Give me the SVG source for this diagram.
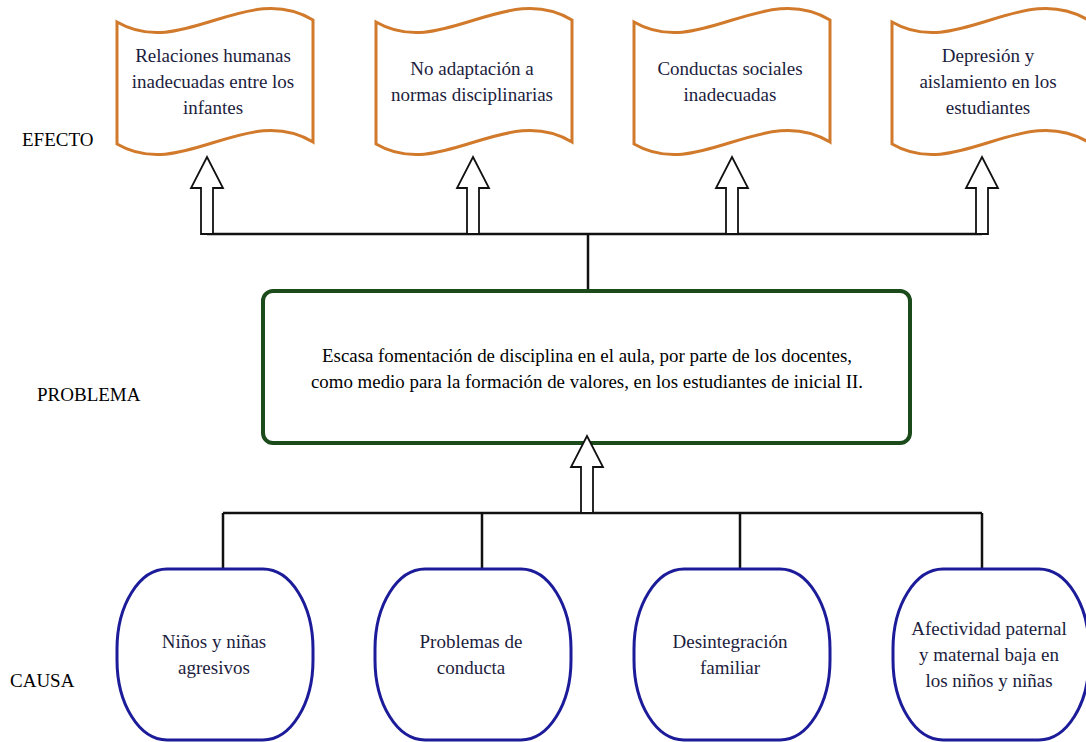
<svg xmlns="http://www.w3.org/2000/svg" width="1086" height="742" viewBox="0 0 1086 742">
<style>
text{font-family:"Liberation Serif","Times New Roman",serif;font-size:19px;text-anchor:middle}
.lbl{fill:#000;text-anchor:start}
.t{fill:#1c1d3e}
.p{fill:#000;font-size:19px}
.wave{fill:#fff;stroke:#d27a2c;stroke-width:3}
.cause{fill:#fff;stroke:#1c1c9a;stroke-width:3}
.prob{fill:#fff;stroke:#1b4a1b;stroke-width:4}
.arr{fill:#fff;stroke:#111;stroke-width:1.8;stroke-linejoin:miter}
.ln{fill:none;stroke:#111;stroke-width:2.5}
</style>
<defs>
<path id="wv" d="M0,22 C65,60 130,-20 196,20 L196,142 C130,102 65,182 0,144 Z"/>
<path id="cs" d="M50,0 L146,0 A50,80 0 0 1 196,80 L196,91 A50,80 0 0 1 146,171 L50,171 A50,80 0 0 1 0,91 L0,80 A50,80 0 0 1 50,0 Z"/>
</defs>

<g id="labels">
<text class="lbl" x="22" y="146">EFECTO</text>
<text class="lbl" x="37" y="401">PROBLEMA</text>
<text class="lbl" x="10" y="687">CAUSA</text>
</g>

<g id="connectors">
<path class="ln" d="M207,234 L982,234 M588,234 L588,291"/>
<path class="ln" d="M223,513 L982,513 M223,513 L223,569 M482,513 L482,569 M740,513 L740,569 M982,513 L982,569"/>
<path class="arr" d="M207,157 L223,188 L213,188 L213,234 L201,234 L201,188 L191,188 Z"/>
<path class="arr" d="M473,157 L489,188 L479,188 L479,234 L467,234 L467,188 L457,188 Z"/>
<path class="arr" d="M732,157 L748,188 L738,188 L738,234 L726,234 L726,188 L716,188 Z"/>
<path class="arr" d="M982,157 L998,188 L988,188 L988,234 L976,234 L976,188 L966,188 Z"/>
</g>

<g id="effect1">
<use href="#wv" class="wave" x="117" y="0"/>
<text class="t" x="213" y="62">Relaciones humanas</text>
<text class="t" x="213" y="88">inadecuadas entre los</text>
<text class="t" x="213" y="114">infantes</text>
</g>
<g id="effect2">
<use href="#wv" class="wave" x="376" y="0"/>
<text class="t" x="472" y="75">No adaptación a</text>
<text class="t" x="472" y="101">normas disciplinarias</text>
</g>
<g id="effect3">
<use href="#wv" class="wave" x="634" y="0"/>
<text class="t" x="730" y="75">Conductas sociales</text>
<text class="t" x="730" y="101">inadecuadas</text>
</g>
<g id="effect4">
<use href="#wv" class="wave" x="892" y="0"/>
<text class="t" x="988" y="62">Depresión y</text>
<text class="t" x="988" y="88">aislamiento en los</text>
<text class="t" x="988" y="114">estudiantes</text>
</g>

<g id="problem">
<rect class="prob" x="263" y="291" width="647" height="152" rx="10"/>
<text class="p" x="587" y="362" textLength="530" lengthAdjust="spacingAndGlyphs">Escasa fomentación de disciplina en el aula, por parte de los docentes,</text>
<text class="p" x="587" y="388" textLength="552" lengthAdjust="spacingAndGlyphs">como medio para la formación de valores, en los estudiantes de inicial II.</text>
</g>
<path class="arr" d="M587,436 L603,467 L593,467 L593,513 L581,513 L581,467 L571,467 Z"/>

<g id="cause1">
<use href="#cs" class="cause" x="117" y="569"/>
<text class="t" x="214" y="648">Niños y niñas</text>
<text class="t" x="214" y="674">agresivos</text>
</g>
<g id="cause2">
<use href="#cs" class="cause" x="375" y="569"/>
<text class="t" x="471" y="648">Problemas de</text>
<text class="t" x="471" y="674">conducta</text>
</g>
<g id="cause3">
<use href="#cs" class="cause" x="634" y="569"/>
<text class="t" x="730" y="648">Desintegración</text>
<text class="t" x="730" y="674">familiar</text>
</g>
<g id="cause4">
<use href="#cs" class="cause" x="893" y="569"/>
<text class="t" x="989" y="635">Afectividad paternal</text>
<text class="t" x="989" y="661">y maternal baja en</text>
<text class="t" x="989" y="687">los niños y niñas</text>
</g>
</svg>
